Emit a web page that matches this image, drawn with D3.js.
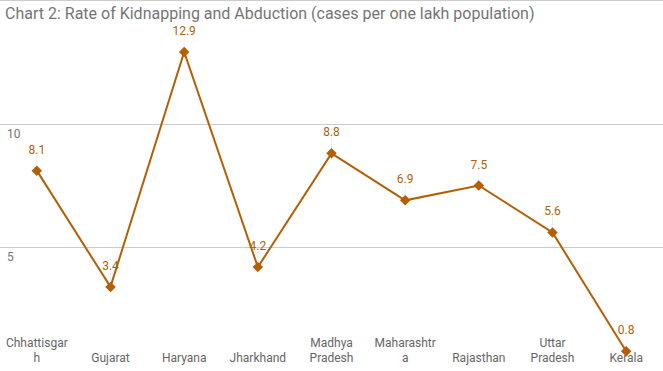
<!DOCTYPE html>
<html>
<head>
<meta charset="utf-8">
<script src="https://cdn.jsdelivr.net/npm/d3@7"></script>
<style>
body{margin:0;background:#fff;}
svg{display:block;font-family:Roboto,"Noto Sans",sans-serif;}
</style>
</head>
<body>
<svg id="chart" width="663" height="371"></svg>
<script>
var states = ["Chhattisgarh","Gujarat","Haryana","Jharkhand","Madhya Pradesh","Maharashtra","Rajasthan","Uttar Pradesh","Kerala"];
var rates = [8.1, 3.4, 12.9, 4.2, 8.8, 6.9, 7.5, 5.6, 0.8];
var yTicks = [5, 10, 15];
var chartTitle = "Chart 2: Rate of Kidnapping and Abduction (cases per one lakh population)";

var W = 663, H = 371;
var lineColor = "#b45f06";
var svg = d3.select("#chart");

var x = d3.scaleBand().domain(states).range([0, W]);
var y = d3.scaleLinear().domain([0, 15]).range([371, 0]);

// gridlines
svg.append("g").selectAll("line").data(yTicks).enter().append("line")
	.attr("x1", 0).attr("x2", W)
	.attr("y1", function(d){return Math.round(y(d)) + 0.5;})
	.attr("y2", function(d){return Math.round(y(d)) + 0.5;})
	.attr("stroke", "#cccccc").attr("stroke-width", 1);

svg.append("g").selectAll("text").data(yTicks.filter(function(d){return d < 15;})).enter().append("text")
	.attr("x", 7).attr("y", function(d){return y(d) + 14;})
	.attr("font-size", 12).attr("fill", "#757575")
	.text(function(d){return d;});

svg.append("text").attr("x", 5).attr("y", 19)
	.attr("font-size", 16).attr("fill", "#757575")
	.text(chartTitle);

function cx(d){return x(d) + x.bandwidth()/2;}

// category labels, wrapped like the original
var labelG = svg.append("g").attr("font-size", 12).attr("fill", "#666666").attr("text-anchor", "middle");
var maxW = 66;
states.forEach(function(name){
	var t = labelG.append("text").attr("x", cx(name));
	var probe = t.append("tspan");
	var lines = [], cur = "";
	name.split(" ").forEach(function(word){
		var tryStr = cur ? cur + " " + word : word;
		probe.text(tryStr);
		if (probe.node().getComputedTextLength() <= maxW) { cur = tryStr; return; }
		if (cur) lines.push(cur);
		cur = "";
		var chunk = "";
		word.split("").forEach(function(ch){
			probe.text(chunk + ch);
			if (probe.node().getComputedTextLength() > maxW && chunk) { lines.push(chunk); chunk = ch; }
			else chunk += ch;
		});
		cur = chunk;
	});
	if (cur) lines.push(cur);
	probe.remove();
	var lh = 15, base = 362 - (lines.length - 1) * lh;
	lines.forEach(function(l, i){
		t.append("tspan").attr("x", cx(name)).attr("y", base + i * lh).text(l);
	});
});

var pts = states.map(function(s, i){return {name: s, v: rates[i]};});

// leader lines
svg.append("g").selectAll("line").data(pts).enter().append("line")
	.attr("x1", function(d){return cx(d.name);}).attr("x2", function(d){return cx(d.name);})
	.attr("y1", function(d){return y(d.v) - 16;}).attr("y2", function(d){return y(d.v) - 4;})
	.attr("stroke", "#eeeeee").attr("stroke-width", 1);

svg.append("path").datum(pts)
	.attr("fill", "none").attr("stroke", lineColor).attr("stroke-width", 2)
	.attr("d", d3.line().x(function(d){return cx(d.name);}).y(function(d){return y(d.v);}));

svg.append("g").selectAll("path").data(pts).enter().append("path")
	.attr("transform", function(d){return "translate(" + cx(d.name) + "," + y(d.v) + ")";})
	.attr("d", d3.symbol().type(d3.symbolDiamond2).size(70))
	.attr("fill", lineColor);

svg.append("g").selectAll("text").data(pts).enter().append("text")
	.attr("x", function(d){return cx(d.name);}).attr("y", function(d){return y(d.v) - 17;})
	.attr("text-anchor", "middle").attr("font-size", 12).attr("fill", lineColor)
	.text(function(d){return d.v;});
</script>
</body>
</html>
